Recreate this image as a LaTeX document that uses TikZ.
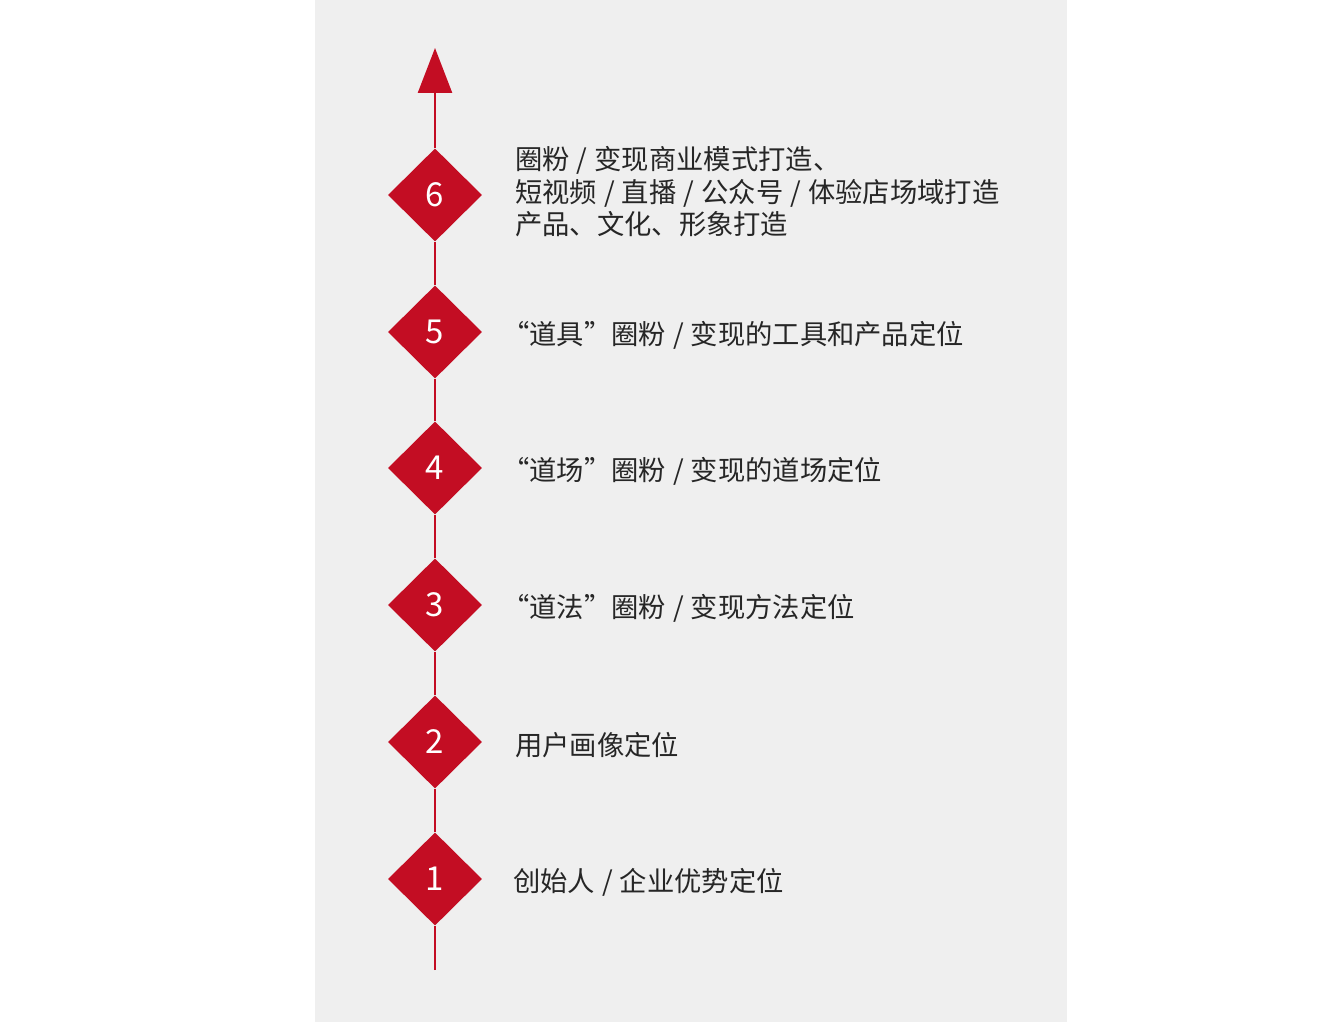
\documentclass[tikz,border=0pt]{standalone}
\usepackage{fontspec}
\setmainfont{Noto Sans CJK SC}
\usetikzlibrary{shapes.geometric,arrows.meta}
\definecolor{myred}{HTML}{C30D23}
\definecolor{panelgray}{HTML}{EFEFEF}
\definecolor{txt}{HTML}{262626}
\tikzset{
  stepdiamond/.style={diamond, fill=myred, draw=none, inner sep=0pt, minimum width=94pt, minimum height=93pt, text=white, font=\fontsize{33}{36}\selectfont},
  steplabel/.style={anchor=west, inner sep=0pt, align=left, text=txt, font=\fontsize{27.3}{32.5}\selectfont},
  axis/.style={draw=myred, line width=2.5pt}
}
\newcommand{\sls}{\hspace{0.26em}/\hspace{0.26em}}
\begin{document}
\begin{tikzpicture}[x=1pt,y=-1pt]
\useasboundingbox (0,0) rectangle (1332,1024);
\fill[panelgray] (315,0) rectangle (1067,1022);
\coordinate (bot) at (435,970);
\coordinate (top) at (435,48);
\node[stepdiamond] (d1) at (435,879) {1};
\node[stepdiamond] (d2) at (435,742) {2};
\node[stepdiamond] (d3) at (435,605) {3};
\node[stepdiamond] (d4) at (435,468) {4};
\node[stepdiamond] (d5) at (435,332) {5};
\node[stepdiamond] (d6) at (435,195) {6};
\draw[axis] (bot) -- (d1.south);
\draw[axis] (d1.north) -- (d2.south);
\draw[axis] (d2.north) -- (d3.south);
\draw[axis] (d3.north) -- (d4.south);
\draw[axis] (d4.north) -- (d5.south);
\draw[axis] (d5.north) -- (d6.south);
\draw[axis, -{Triangle[length=45pt, width=34pt]}] (d6.north) -- (top);
\node[steplabel] (t1) at (513,882) {创始人\sls 企业优势定位};
\node[steplabel] (t2) at (515,745) {用户画像定位};
\node[steplabel] (t3) at (502,608) {“道法”圈粉\sls 变现方法定位};
\node[steplabel] (t4) at (502,471) {“道场”圈粉\sls 变现的道场定位};
\node[steplabel] (t5) at (502,335) {“道具”圈粉\sls 变现的工具和产品定位};
\node[steplabel] (t6) at (515,192) {圈粉\sls 变现商业模式打造、\\短视频\sls 直播\sls 公众号\sls 体验店场域打造\\产品、文化、形象打造};
\end{tikzpicture}
\end{document}
